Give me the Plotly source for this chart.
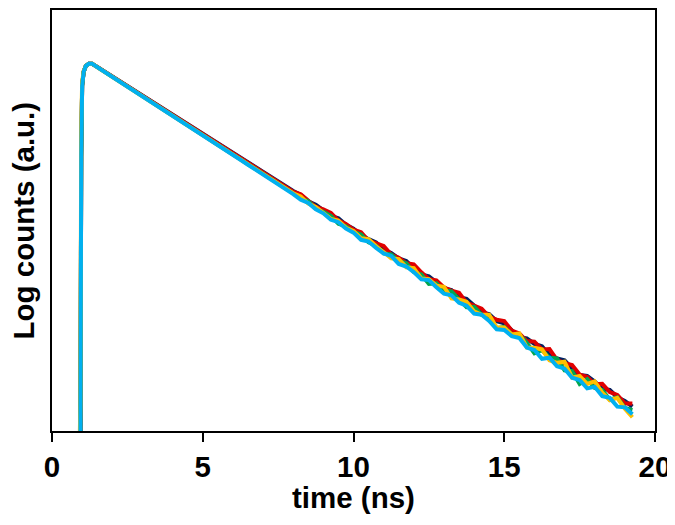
import plotly.graph_objects as go

time_ns = [0.90, 0.94, 0.97, 1.00, 1.05, 1.12, 1.22, 1.33,
           1.50, 1.75, 2.00, 2.25, 2.50, 2.75, 3.00, 3.25, 3.50, 3.75,
           4.00, 4.25, 4.50, 4.75, 5.00, 5.25, 5.50, 5.75, 6.00, 6.25,
           6.50, 6.75, 7.00, 7.25, 7.50, 7.75, 8.00, 8.25, 8.50, 8.75,
           9.00, 9.25, 9.50, 9.75, 10.00, 10.25, 10.50, 10.75, 11.00, 11.25,
           11.50, 11.75, 12.00, 12.25, 12.50, 12.75, 13.00, 13.25, 13.50, 13.75,
           14.00, 14.25, 14.50, 14.75, 15.00, 15.25, 15.50, 15.75, 16.00, 16.25,
           16.50, 16.75, 17.00, 17.25, 17.50, 17.75, 18.00, 18.25, 18.50, 18.75,
           19.00, 19.25]

navy = [40, 60, 3000, 7500, 9000, 9700, 9980, 10000,
        9590, 9010, 8470, 7950, 7480, 7010, 6600, 6200, 5830, 5460,
        5150, 4830, 4550, 4270, 4000, 3770, 3540, 3320, 3130, 2940,
        2750, 2600, 2440, 2290, 2160, 2020, 1914, 1815, 1672, 1601,
        1489, 1385, 1340, 1233, 1170, 1078, 1022, 979, 893, 855,
        796, 769, 702, 646, 631, 587, 540, 528, 481, 471,
        430, 395, 386, 352, 343, 314, 286, 282, 262, 254,
        227, 217, 212, 190, 175, 173, 161, 146, 144, 131,
        125, 116]

red = [40, 60, 3000, 7500, 9000, 9700, 9980, 10000,
       9600, 9020, 8460, 7960, 7470, 7030, 6590, 6210, 5820, 5480,
       5140, 4840, 4540, 4260, 4010, 3760, 3550, 3330, 3120, 2950,
       2760, 2590, 2450, 2280, 2170, 2030, 1895, 1832, 1688, 1554,
       1504, 1440, 1301, 1245, 1159, 1120, 1002, 969, 937, 838,
       803, 747, 736, 665, 607, 599, 546, 523, 510, 448,
       430, 414, 372, 359, 353, 311, 300, 272, 270, 244,
       245, 213, 204, 199, 176, 171, 155, 156, 140, 135,
       121, 121]

green = [40, 60, 3000, 7500, 9000, 9700, 9980, 10000,
         9570, 8990, 8440, 7930, 7440, 6990, 6570, 6170, 5790, 5440,
         5110, 4800, 4510, 4230, 3970, 3730, 3500, 3300, 3090, 2900,
         2730, 2560, 2400, 2270, 2120, 2000, 1876, 1744, 1672, 1523,
         1460, 1385, 1249, 1209, 1125, 1088, 982, 941, 849, 838,
         772, 747, 667, 646, 571, 576, 524, 518, 467, 422,
         425, 383, 368, 321, 327, 296, 295, 266, 232, 242,
         219, 217, 186, 184, 156, 166, 148, 144, 127, 131,
         114, 111]

yellow = [50, 120, 4500, 7900, 9100, 9700, 9970, 10000,
          9560, 8980, 8420, 7920, 7430, 6970, 6560, 6150, 5780, 5420,
          5100, 4780, 4500, 4220, 3960, 3720, 3490, 3280, 3080, 2890,
          2720, 2550, 2390, 2250, 2110, 1990, 1857, 1780, 1622, 1554,
          1445, 1330, 1301, 1185, 1136, 1035, 1022, 932, 866, 797,
          788, 710, 702, 614, 607, 559, 551, 473, 467, 453,
          400, 383, 383, 324, 324, 296, 300, 250, 249, 244,
          212, 205, 208, 169, 173, 156, 161, 139, 126, 130,
          113, 101]

cyan = [40, 60, 3000, 7500, 9000, 9700, 9980, 10000,
        9560, 8980, 8420, 7910, 7410, 6960, 6530, 6140, 5750, 5400,
        5070, 4760, 4470, 4200, 3930, 3700, 3470, 3260, 3060, 2870,
        2690, 2530, 2370, 2230, 2090, 1960, 1838, 1709, 1638, 1507,
        1431, 1316, 1275, 1173, 1113, 1014, 992, 913, 849, 822,
        741, 717, 667, 607, 601, 547, 503, 493, 448, 431,
        388, 383, 353, 317, 314, 290, 283, 250, 242, 216,
        219, 196, 190, 169, 164, 147, 150, 133, 130, 116,
        115, 105]

series = [
    ("sample 1", navy, "#002060"),
    ("sample 2", red, "#E00000"),
    ("sample 3", green, "#00A650"),
    ("sample 4", yellow, "#FFC000"),
    ("sample 5", cyan, "#00B0F0"),
]

x_ticks = [0, 5, 10, 15, 20]

fig = go.Figure()
for name, vals, color in series:
    fig.add_trace(go.Scatter(x=time_ns, y=vals, mode="lines", name=name,
                             line=dict(color=color, width=4)))

font_family = "Liberation Sans, Arial, sans-serif"
fs = 29.5
fig.update_layout(
    width=667, height=517,
    margin=dict(l=44, r=20, t=0, b=94),
    plot_bgcolor="white", paper_bgcolor="white",
    showlegend=False,
    font=dict(family=font_family, size=fs, color="black"),
)
fig.update_xaxes(
    range=[0, 20], tickvals=x_ticks, ticktext=[f"<b>{v}</b>" for v in x_ticks],
    ticks="outside", ticklen=9, tickwidth=2, tickcolor="black",
    showline=True, linecolor="black", linewidth=2, mirror=True,
    showgrid=False, zeroline=False,
    tickfont=dict(size=fs),
)
fig.update_yaxes(
    type="log", range=[1.927, 4.303],
    showticklabels=False, ticks="",
    showline=True, linecolor="black", linewidth=2, mirror=True,
    showgrid=False, zeroline=False,
)
fig.add_annotation(
    text="<b>time (ns)</b>",
    xref="paper", yref="paper", x=0.5, y=0,
    xanchor="center", yanchor="middle", yshift=-66,
    showarrow=False, font=dict(size=fs, color="black"),
)
fig.add_annotation(
    text="<b>Log counts (a.u.)</b>", textangle=-90,
    xref="paper", yref="paper", x=0, y=0.5,
    xanchor="center", yanchor="middle", xshift=-29, yshift=0,
    borderpad=0,
    showarrow=False, font=dict(size=fs, color="black"),
)

fig.write_html("out.html")
